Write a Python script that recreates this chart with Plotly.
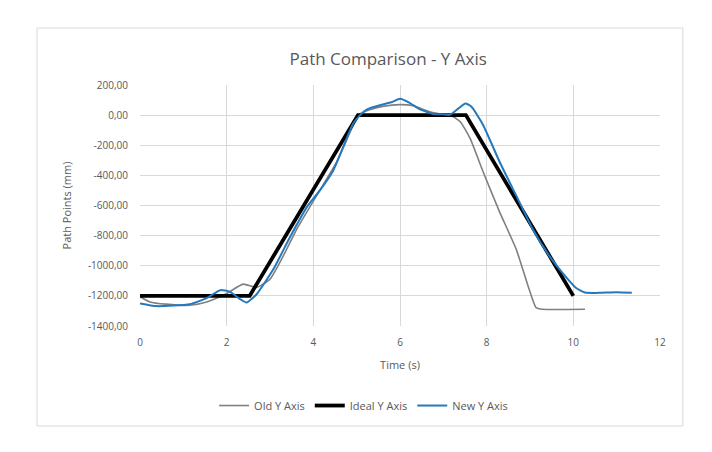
import plotly.graph_objects as go

old_t = [0.0, 0.23, 0.6, 1.15, 1.54, 2.0, 2.38, 2.69, 3.0, 3.31, 3.62, 4.08, 4.54, 4.85, 5.04, 5.3, 5.6, 6.0, 6.31, 6.69, 7.0, 7.17, 7.39, 7.62, 7.92, 8.3, 8.68, 8.98, 9.14, 9.29, 10.27]
old_y = [-1206, -1240, -1255, -1262, -1240, -1184, -1122, -1144, -1089, -933, -756, -533, -311, -111, 0, 35, 58, 70, 62, 22, 5, 0, -44, -156, -378, -644, -889, -1156, -1278, -1289, -1289]

ideal_t = [0.0, 2.53, 5.03, 7.52, 10.0]
ideal_y = [-1200, -1200, 0, 0, -1200]

new_t = [0.0, 0.38, 1.15, 1.54, 1.85, 2.08, 2.3, 2.46, 2.69, 3.08, 3.46, 3.85, 4.15, 4.46, 4.69, 4.92, 5.08, 5.25, 5.54, 5.8, 6.0, 6.2, 6.45, 6.77, 7.0, 7.15, 7.35, 7.51, 7.65, 7.92, 8.3, 8.68, 9.06, 9.44, 9.74, 10.05, 10.27, 10.58, 11.0, 11.35]
new_y = [-1250, -1268, -1255, -1215, -1162, -1173, -1220, -1244, -1189, -1022, -811, -611, -500, -367, -211, -56, 0, 40, 66, 85, 108, 85, 40, 8, 5, 2, 45, 78, 55, -67, -311, -533, -756, -933, -1044, -1144, -1178, -1180, -1176, -1180]

y_ticks = [200, 0, -200, -400, -600, -800, -1000, -1200, -1400]
y_tick_labels = ["200,00", "0,00", "-200,00", "-400,00", "-600,00", "-800,00", "-1000,00", "-1200,00", "-1400,00"]
x_ticks = [0, 2, 4, 6, 8, 10, 12]

fig = go.Figure()
fig.add_trace(go.Scatter(x=old_t, y=old_y, mode="lines", name="Old Y Axis",
                         line=dict(color="#808080", width=1.6, shape="spline", smoothing=0.5)))
fig.add_trace(go.Scatter(x=ideal_t, y=ideal_y, mode="lines", name="Ideal Y Axis",
                         line=dict(color="#000000", width=3.8)))
fig.add_trace(go.Scatter(x=new_t, y=new_y, mode="lines", name="New Y Axis",
                         line=dict(color="#2478be", width=2, shape="spline", smoothing=0.5)))

font_fam = "Open Sans, Liberation Sans, sans-serif"
fig.update_layout(
    width=704, height=444,
    margin=dict(l=132, r=52, t=77, b=126),
    paper_bgcolor="white", plot_bgcolor="white",
    font=dict(family=font_fam, size=10, color="#595959"),
    title=dict(text="Path Comparison - Y Axis", x=0.54, xanchor="center",
               y=0.886, yanchor="middle", font=dict(size=17, color="#595959")),
    showlegend=True,
    legend=dict(orientation="h", x=0.43, xanchor="center", y=-0.33, yanchor="middle",
                font=dict(size=11, color="#595959"), itemwidth=30, tracegroupgap=0),
    xaxis=dict(range=[0, 12], tickvals=x_ticks, showgrid=True, gridcolor="#d9d9d9",
               gridwidth=1, zeroline=False, showline=False, ticks="",
               ticklabelstandoff=9,
               title=dict(text="Time (s)", font=dict(size=11, color="#595959"), standoff=13)),
    yaxis=dict(range=[-1400, 200], tickvals=y_ticks, ticktext=y_tick_labels, showgrid=True,
               gridcolor="#d9d9d9", gridwidth=1, zeroline=False, showline=False, ticks="",
               ticklabelstandoff=11,
               title=dict(text="Path Points (mm)", font=dict(size=11, color="#595959"), standoff=14)),
    shapes=[dict(type="rect", xref="paper", yref="paper", x0=-0.198, x1=1.044, y0=-0.415, y1=1.2365,
                 line=dict(color="#d9d9d9", width=1), fillcolor="rgba(0,0,0,0)", layer="below")],
)

fig.write_html("out.html")
